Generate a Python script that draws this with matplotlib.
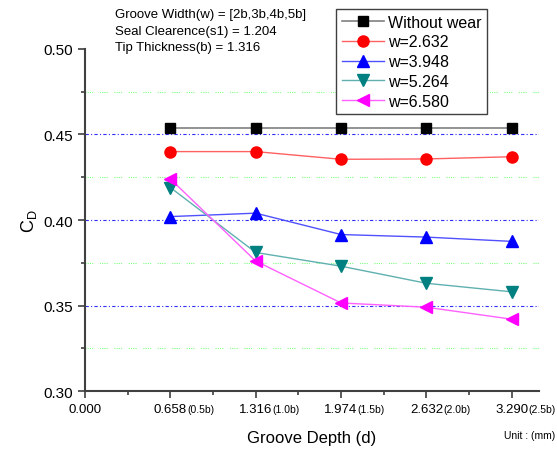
import numpy as np
import matplotlib
matplotlib.use("Agg")
import matplotlib.pyplot as plt
from matplotlib.ticker import MultipleLocator

plt.rcParams['font.family'] = ['Liberation Sans', 'DejaVu Sans']

# Groove depth (mm) and equivalent in tip thickness b
depth = [0.658, 1.316, 1.974, 2.632, 3.290]
depth_b = ['(0.5b)', '(1.0b)', '(1.5b)', '(2.0b)', '(2.5b)']

# C_D values
cd_no_wear = [0.454, 0.454, 0.454, 0.454, 0.454]
cd_w2632 = [0.440, 0.440, 0.4355, 0.4357, 0.437]
cd_w3948 = [0.402, 0.404, 0.3915, 0.390, 0.3875]
cd_w5264 = [0.419, 0.381, 0.373, 0.363, 0.358]
cd_w6580 = [0.424, 0.376, 0.3515, 0.349, 0.342]

fig = plt.figure(figsize=(5.57, 4.52), dpi=100)
ax = fig.add_axes([0.1526, 0.1327, 0.8151, 0.7567])

# grid lines (blue at major, green at minor)
for yv in [0.35, 0.40, 0.45]:
    ax.axhline(yv, color='#3030ff', lw=0.8, ls=(0, (3, 2, 1, 2)), zorder=0)
for yv in [0.325, 0.375, 0.425, 0.475]:
    ax.axhline(yv, color='#80ff80', lw=0.8, ls=(0, (1, 1, 1, 1, 1, 1, 1, 6)), zorder=0)

ax.plot(depth, cd_no_wear, color='#808080', lw=1.2, marker='s', ms=7,
        mfc='black', mec='black', label='Without wear')
ax.plot(depth, cd_w2632, color='#ff6060', lw=1.0, marker='o', ms=8,
        mfc='red', mec='red', label='w=2.632')
ax.plot(depth, cd_w3948, color='#5050ff', lw=1.0, marker='^', ms=9,
        mfc='blue', mec='blue', label='w=3.948')
ax.plot(depth, cd_w5264, color='#60b0b0', lw=1.0, marker='v', ms=9,
        mfc='#008080', mec='#008080', label='w=5.264')
ax.plot(depth, cd_w6580, color='#ff60ff', lw=1.0, marker='<', ms=9,
        mfc='magenta', mec='magenta', label='w=6.580')

ax.set_xlim(0, 3.5)
ax.set_ylim(0.30, 0.50)
ax.set_xticks([0.0] + depth)
ax.set_xticklabels(['0.000'] + ['%.3f' % d for d in depth], fontsize=9.5)
ax.xaxis.set_minor_locator(MultipleLocator(0.329))
ax.yaxis.set_major_locator(MultipleLocator(0.05))
ax.yaxis.set_minor_locator(MultipleLocator(0.025))
ax.yaxis.set_major_formatter(matplotlib.ticker.FormatStrFormatter('%.2f'))
ax.tick_params(axis='y', labelsize=11)
ax.tick_params(which='major', direction='out', length=5, width=1.2, color='#404040')
ax.tick_params(which='minor', direction='out', length=3, width=1.2, color='#404040')

for d, s in zip(depth, depth_b):
    ax.annotate(s, xy=(d, 0), xycoords=('data', 'axes fraction'),
                xytext=(12, -15), textcoords='offset points',
                ha='left', va='baseline', fontsize=7.5)

for side in ['top', 'right']:
    ax.spines[side].set_visible(False)
for side in ['left', 'bottom']:
    ax.spines[side].set_color('#404040')
    ax.spines[side].set_linewidth(1.5)

ax.set_xlabel('Groove Depth (d)', fontsize=12, labelpad=11)
ax.set_ylabel('C$_\\mathregular{D}$', fontsize=13, labelpad=3)

fig.text(0.207, 0.98, 'Groove Width(w) = [2b,3b,4b,5b]\nSeal Clearence(s1) = 1.204\nTip Thickness(b) = 1.316',
         fontsize=9.5, va='top', ha='left', linespacing=1.5)
fig.text(0.997, 0.025, 'Unit : (mm)', fontsize=7.5, ha='right', va='bottom')

leg = fig.legend(loc='upper left', bbox_to_anchor=(0.604, 0.978), fontsize=11.5,
                 fancybox=False, framealpha=1, edgecolor='#404040',
                 handlelength=2.6, borderpad=0.35, labelspacing=0.3,
                 handletextpad=0.3, borderaxespad=0)
leg.get_frame().set_linewidth(1.0)

fig.savefig('out.png', dpi=100)
